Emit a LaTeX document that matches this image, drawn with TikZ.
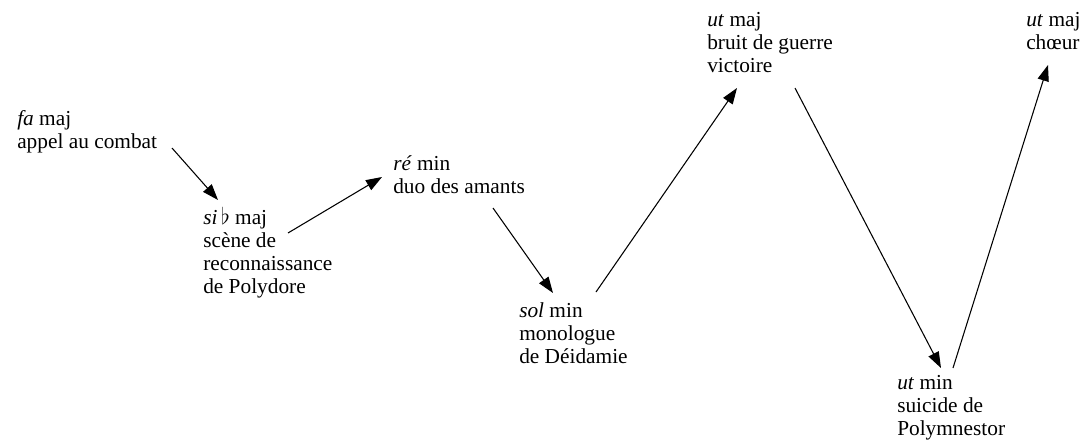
\documentclass[tikz,border=0pt]{standalone}
\usepackage{fontspec}
\setmainfont{Liberation Serif}
\usetikzlibrary{arrows.meta}
\tikzset{
	keylabel/.style={
		anchor=north west, inner sep=0pt, align=left,
		font=\fontsize{16}{17.25}\selectfont},
	keyarrow/.style={
		draw, line width=0.8pt,
		-{Triangle[length=12pt,width=8.5pt]}}
}
\begin{document}
\begin{tikzpicture}[x=0.75pt,y=0.75pt,yscale=-1,xscale=1]
\useasboundingbox (0,0) rectangle (1083,443);

% keys
\node[keylabel] (fa)   at (17,110)  {\textit{fa} maj\\appel au combat};
\node[keylabel] (sib)  at (203,207) {\textit{si}\,$\flat$ maj\\scène de\\reconnaissance\\de Polydore};
\node[keylabel] (re)   at (393,155) {\textit{ré} min\\duo des amants};
\node[keylabel] (sol)  at (519,302) {\textit{sol} min\\monologue\\de Déidamie};
\node[keylabel] (utA)  at (707,12)  {\textit{ut} maj\\bruit de guerre\\victoire};
\node[keylabel] (utm)  at (897,375) {\textit{ut} min\\suicide de\\Polymnestor};
\node[keylabel] (utB)  at (1026,12) {\textit{ut} maj\\chœur};

% moves
\draw[keyarrow] ([shift={(155,38)}]fa.north west) -- ([shift={(15,-7)}]sib.north west);
\draw[keyarrow] ([shift={(85,26)}]sib.north west) -- ([shift={(-11,22)}]re.north west);
\draw[keyarrow] ([shift={(100,53)}]re.north west) -- ([shift={(34,-9)}]sol.north west);
\draw[keyarrow] ([shift={(77,-10)}]sol.north west) -- ([shift={(30,76)}]utA.north west);
\draw[keyarrow] ([shift={(88,76)}]utA.north west) -- ([shift={(44,-7)}]utm.north west);
\draw[keyarrow] ([shift={(56,-7)}]utm.north west) -- ([shift={(22,53)}]utB.north west);

\end{tikzpicture}
\end{document}
